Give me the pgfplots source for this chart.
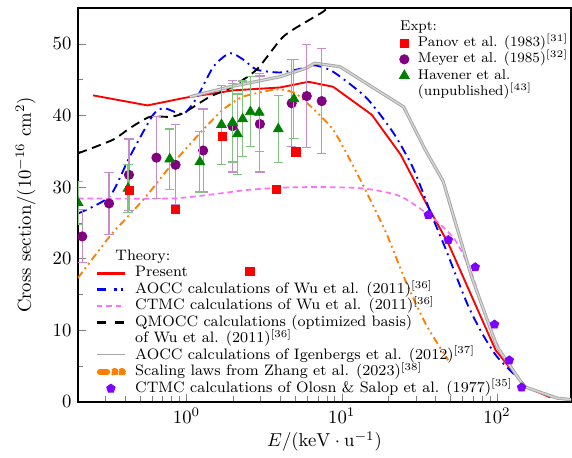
\documentclass[border=0pt]{standalone}
\usepackage{pgfplots}
\pgfplotsset{compat=1.18}
\usepackage{pgfplotstable}

\definecolor{cpink}{RGB}{255,110,255}
\definecolor{corange}{RGB}{255,128,0}
\definecolor{cgray}{RGB}{165,165,165}
\definecolor{cpent}{RGB}{128,0,255}
\definecolor{cpurple}{RGB}{128,0,128}
\definecolor{cgreen}{RGB}{0,128,0}
\definecolor{cmeyerr}{RGB}{200,140,200}
\definecolor{chaverr}{RGB}{130,195,130}

\pgfplotstableread{
E s
0.25 42.8
0.56 41.4
1.0 42.5
2.0 43.5
4.0 43.9
6.1 44.7
8.8 44.0
15.6 40.1
24 34.5
35.4 27.5
48.6 22.1
98 7.2
152 2.1
221 0.6
}\present

\pgfplotstableread{
E s
0.2 26.3
0.32 28.7
0.43 34.2
0.61 40.1
0.72 41.0
0.95 40.2
1.16 42.4
1.49 46.8
1.90 48.7
2.32 47.8
2.83 46.4
4.0 46.0
5.65 46.6
6.7 47.0
8.8 46.1
14.5 42.4
21.6 37.5
28.3 33.0
33 29.5
38 26.0
46 21.7
64 13.8
80 9.6
100 6.3
141 3.0
150 2.3
}\aoccwu

\pgfplotstableread{
E s
0.2 28.4
0.8 28.4
1.5 29.0
2.5 29.6
4 29.9
7 30.0
13.8 29.8
23.9 28.7
39 25.6
53.7 22.6
68.5 18.0
86 11.4
105 7.2
128 4.4
144 2.6
}\ctmcwu

\pgfplotstableread{
E s
0.2 34.7
0.336 36.6
0.43 38.2
0.58 39.8
0.78 39.8
0.95 40.3
1.41 42.6
1.9 43.8
2.83 46.4
4.2 51.0
6.25 53.4
7.6 54.5
9.0 56.0
}\qmocc

\pgfplotstableread{
E s
1.05 42.6
1.9 44.0
4.0 45.4
5.9 46.6
6.7 47.3
9.75 46.8
25 41.2
34.5 35.2
45 30.8
52.5 25.9
68.5 17.5
100 7.7
150 2.1
245 0.5
300 0.3
}\igen

\pgfplotstableread{
E s
0.2 17.3
0.32 23.1
0.42 25.9
0.55 28.7
0.78 32.8
1.28 38.0
1.72 40.8
2.3 42.6
3.45 43.5
4.2 43.6
5.1 43.0
6.5 41.0
8.8 38.0
11.3 33.8
14.2 29.6
19.4 23.5
26.2 16.5
35.5 10.5
48.6 5.8
}\scaling

\pgfplotstableread{
E s
36.1 26.1
48.6 22.6
72.4 18.8
96.4 10.8
120 5.8
144 2.0
}\olson

\pgfplotstableread{
E s
0.43 29.5
0.85 26.9
1.71 37.1
2.56 18.2
3.8 29.7
5.07 34.9
}\panov

\pgfplotstableread{
E s e
0.213 23.1 3.7
0.317 27.7 4.3
0.426 31.7 5.0
0.64 34.1 5.7
0.85 33.1 5.6
1.28 35.1 5.8
1.98 38.5 6.4
2.97 38.8 6.7
4.76 41.7 6.1
5.95 42.7 7.2
7.43 42.0 7.3
}\meyer

\pgfplotstableread{
E s e
0.2 27.8 3.0
0.42 29.8 3.4
0.78 33.9 4.2
1.22 33.5 4.2
1.68 38.7 5.5
1.98 39.0 5.5
2.13 37.4 5.6
2.30 39.5 5.3
2.58 40.5 4.9
2.94 40.4 5.5
3.9 38.1 4.7
4.92 42.3 5.5
}\havener

\pgfplotsset{
  exptimg/.style={legend image code/.code={\path[draw=none,fill=none] (0pt,0pt) -- (6.5pt,0pt); \draw[##1] plot coordinates {(2.2pt,0pt)};}},
  legfont/.style={font=\fontsize{8.1}{8.8}\selectfont},
  legfontb/.style={font=\fontsize{7.6}{8.7}\selectfont},
}

\begin{document}
\begin{tikzpicture}
\begin{axis}[
  scale only axis, width=263.6pt, height=210.5pt,
  xmode=log, xmin=0.2, xmax=300, ymin=0, ymax=55,
  ytick={0,10,20,30,40,50}, minor ytick={5,15,25,35,45},
  tick pos=left, tick align=inside,
  axis line style={line width=0.8pt},
  xlabel={$E/(\mathrm{keV}\cdot\mathrm{u}^{-1})$},
  ylabel={Cross section$/(10^{-16}\ \mathrm{cm}^2)$},
  every axis y label/.append style={yshift=2.3pt},
  every axis x label/.append style={yshift=2.5pt},
  legend cell align=left,
  legend image code/.code={\draw[mark repeat=2,mark phase=2,#1] plot coordinates {(0pt,0pt) (7.5pt,0pt) (15pt,0pt)};},
  legend style={draw=none, fill=none, legfont, inner sep=0pt, outer sep=0pt,
    at={(0.0345,0.389)}, anchor=north west, row sep=0pt, column sep=4.5pt,
    nodes={inner sep=0pt, text height=6.3pt, text depth=2.5pt}},
  clip marker paths=true,
]
\coordinate (SW) at (rel axis cs:0,0);
\coordinate (NE) at (rel axis cs:1,1);
\addlegendimage{empty legend}
\addlegendentry{\hspace*{-10.6pt}Theory:}
\addplot[red, line width=1pt, legend image post style={line width=1.6pt}] table[x=E,y=s] {\present};
\addlegendentry{Present}
\addplot[blue, line width=1pt, dash pattern=on 5pt off 2.5pt on 1pt off 2.5pt, smooth, tension=0.4,
  legend image code/.code={\draw[blue, line width=1.6pt] (0pt,0pt) -- (5.3pt,0pt);
    \draw[blue, line width=1.6pt] (9.1pt,0pt) -- (10.5pt,0pt); \draw[blue, line width=1.6pt] (12.8pt,0pt) -- (14.2pt,0pt);}]
  table[x=E,y=s] {\aoccwu};
\addlegendentry{AOCC calculations of Wu et al. (2011)\textsuperscript{[36]}}
\addplot[cpink, line width=0.9pt, dash pattern=on 3pt off 2pt, smooth, tension=0.4,
  legend image code/.code={\draw[cpink, line width=1.2pt, dash pattern=on 3pt off 2pt] (0pt,0pt) -- (15pt,0pt);}]
  table[x=E,y=s] {\ctmcwu};
\addlegendentry{CTMC calculations of Wu et al. (2011)\textsuperscript{[36]}}
\addplot[black, line width=1pt, dash pattern=on 5pt off 3pt, smooth, tension=0.4,
  legend image code/.code={\draw[black, line width=1.6pt] (0pt,0pt) -- (5.3pt,0pt); \draw[black, line width=1.6pt] (9.7pt,0pt) -- (15pt,0pt);}]
  table[x=E,y=s] {\qmocc};
\addlegendentry{QMOCC calculations (optimized basis)}
\addlegendimage{empty legend}
\addlegendentry{of Wu et al. (2011)\textsuperscript{[36]}}
\addplot[cgray, line width=0.5pt, double=cgray!45, double distance=0.7pt,
  legend image code/.code={\draw[cgray, line width=0.5pt, double=white, double distance=1pt] (0pt,0pt) -- (15pt,0pt);}]
  table[x=E,y=s] {\igen};
\addlegendentry{AOCC calculations of Igenbergs et al. (2012)\textsuperscript{[37]}}
\addplot[corange, line width=1pt, dash pattern=on 4pt off 2pt on 1pt off 2pt on 1pt off 2pt, smooth, tension=0.4,
  legend image code/.code={\draw[corange, line width=3.2pt, line cap=round] (1.6pt,0pt) -- (5.5pt,0pt);
    \fill[corange] (9.5pt,0pt) circle (1.7pt); \fill[corange] (13.4pt,0pt) circle (1.7pt);}]
  table[x=E,y=s] {\scaling};
\addlegendentry{Scaling laws from Zhang et al. (2023)\textsuperscript{[38]}}
\addplot[only marks, mark=pentagon*, mark size=2.4pt, color=cpent] table[x=E,y=s] {\olson};
\addlegendentry{CTMC calculations of Olosn \& Salop et al. (1977)\textsuperscript{[35]}}

% experiments
\addplot[forget plot, only marks, mark=*, mark size=2.5pt, color=cpurple,
  error bars/.cd, y dir=both, y explicit,
  error bar style={color=cmeyerr, line width=0.6pt},
  error mark options={rotate=90, mark size=2.5pt, color=cmeyerr, line width=0.6pt}]
  table[x=E,y=s,y error=e] {\meyer};
\addplot[forget plot, only marks, mark=triangle*, mark size=3pt, color=cgreen,
  error bars/.cd, y dir=both, y explicit,
  error bar style={color=chaverr, line width=0.6pt},
  error mark options={rotate=90, mark size=2.5pt, color=chaverr, line width=0.6pt}]
  table[x=E,y=s,y error=e] {\havener};
\addplot[forget plot, only marks, mark=square*, mark size=2.2pt, color=red] table[x=E,y=s] {\panov};
\end{axis}

\begin{axis}[
  scale only axis, width=263.6pt, height=210.5pt,
  hide axis, xmin=0, xmax=1, ymin=0, ymax=1,
  legend cell align=left,
  legend style={draw=none, fill=none, legfontb, inner sep=0pt, outer sep=0pt,
    at={(0.652,0.973)}, anchor=north west, row sep=0pt, column sep=3pt,
    nodes={inner sep=0pt, text height=6.2pt, text depth=2.5pt}},
]
\addlegendimage{empty legend}
\addlegendentry{\hspace*{-9.5pt}Expt:}
\addlegendimage{only marks, mark=square*, mark size=2.2pt, red, exptimg}
\addlegendentry{Panov et al. (1983)\textsuperscript{[31]}}
\addlegendimage{only marks, mark=*, mark size=2.5pt, cpurple, exptimg}
\addlegendentry{Meyer et al. (1985)\textsuperscript{[32]}}
\addlegendimage{only marks, mark=triangle*, mark size=3pt, cgreen, exptimg}
\addlegendentry{Havener et al.}
\addlegendimage{empty legend}
\addlegendentry{(unpublished)\textsuperscript{[43]}}
\end{axis}
\pgfresetboundingbox
\path ([shift={(-41.7pt,-29.6pt)}]SW) rectangle ([shift={(0.5pt,4.3pt)}]NE);
\end{tikzpicture}
\end{document}
